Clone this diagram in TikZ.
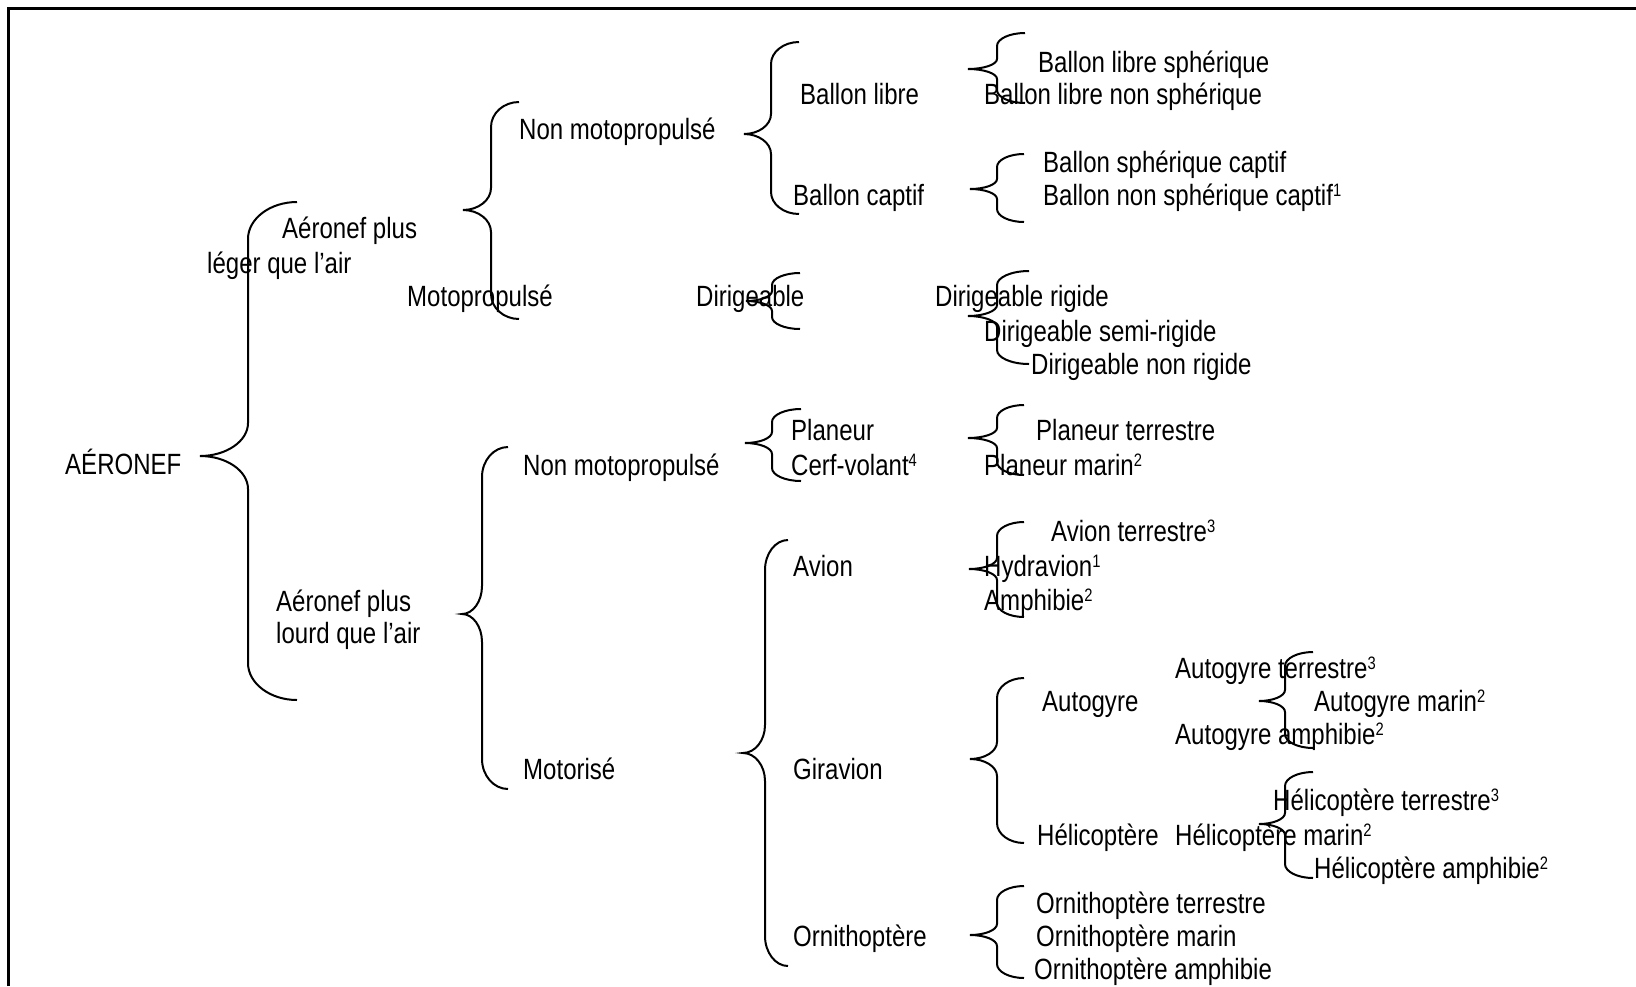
\documentclass[tikz,border=0pt]{standalone}
\usepackage{fontspec}
\setmainfont{Liberation Sans}[FakeStretch=0.82]
\newcommand\expo[1]{\raisebox{8.5pt}{\fontsize{18}{18}\selectfont #1}}
% brace: tipx tipy spinex endx top bottom r rt
\newcommand\brc[8]{%
\draw[br] (#4,#5) .. controls ({#3+0.45*(#4-#3)},#5) and (#3,{#5+0.45*#7}) .. (#3,{#5+#7})
 -- (#3,{#2-#8}) .. controls (#3,{#2-0.45*#8}) and ({#1+0.55*(#3-#1)},#2) .. (#1,#2)
 .. controls ({#1+0.55*(#3-#1)},#2) and (#3,{#2+0.45*#8}) .. (#3,{#2+#8})
 -- (#3,{#6-#7}) .. controls (#3,{#6-0.45*#7}) and ({#3+0.45*(#4-#3)},#6) .. (#4,#6);}
\begin{document}
\begin{tikzpicture}[x=1pt,y=-1pt,
  lbl/.style={anchor=base west, inner sep=0pt, font=\fontsize{29.3}{34}\selectfont},
  br/.style={line width=2pt},
  frame/.style={line width=3pt}]
\useasboundingbox (0,0) rectangle (1636,986);
\draw[frame] (8.5,986) -- (8.5,8.5) -- (1636,8.5);
% braces
\brc{200}{456}{248}{297}{202}{700}{37}{33}
\brc{463}{210}{491}{519}{102}{319}{25}{22}
\brc{744}{134}{771}{799}{42}{214}{22}{20}
\brc{746}{301}{772}{800}{273}{329}{12}{10}
\brc{745}{443}{772}{801}{409}{481}{13}{11}
\brc{462}{614}{482}{508}{447}{789}{30}{28}
\brc{743}{753}{765}{788}{540}{966}{30}{28}
\brc{968}{69}{997}{1025}{33}{103}{13}{10}
\brc{970}{189}{997}{1024}{154}{222}{13}{10}
\brc{968}{316}{997}{1029}{271}{364}{14}{11}
\brc{968}{438}{997}{1024}{405}{475}{13}{10}
\brc{969}{569}{997}{1024}{522}{617}{14}{11}
\brc{970}{759}{997}{1024}{678}{843}{20}{17}
\brc{1259}{701}{1285}{1313}{652}{748}{14}{11}
\brc{1259}{824}{1285}{1313}{772}{878}{14}{11}
\brc{970}{935}{997}{1024}{886}{978}{14}{11}
% labels
\node[lbl] (root) at (65,474) {AÉRONEF};
\node[lbl] (l1a) at (282,238) {Aéronef plus};
\node[lbl] (l1b) at (207,273) {léger que l’air};
\node[lbl] (l2a) at (276,611) {Aéronef plus};
\node[lbl] (l2b) at (276,643) {lourd que l’air};
\node[lbl] (nm1) at (519,139) {Non motopropulsé};
\node[lbl] (mp) at (407,306) {Motopropulsé};
\node[lbl] (bl) at (800,104) {Ballon libre};
\node[lbl] (bc) at (793,205) {Ballon captif};
\node[lbl] (dir) at (696,306) {Dirigeable};
\node[lbl] (bls) at (1038,72) {Ballon libre sphérique};
\node[lbl] (blns) at (984,104) {Ballon libre non sphérique};
\node[lbl] (bsc) at (1043,172) {Ballon sphérique captif};
\node[lbl] (bnsc) at (1043,205) {Ballon non sphérique captif\expo{1}};
\node[lbl] (dr) at (935,306) {Dirigeable rigide};
\node[lbl] (dsr) at (984,341) {Dirigeable semi-rigide};
\node[lbl] (dnr) at (1031,374) {Dirigeable non rigide};
\node[lbl] (pl) at (791,440) {Planeur};
\node[lbl] (cv) at (791,475) {Cerf-volant\expo{4}};
\node[lbl] (nm2) at (523,475) {Non motopropulsé};
\node[lbl] (plt) at (1036,440) {Planeur terrestre};
\node[lbl] (plm) at (984,475) {Planeur marin\expo{2}};
\node[lbl] (mot) at (523,779) {Motorisé};
\node[lbl] (av) at (793,576) {Avion};
\node[lbl] (gir) at (793,779) {Giravion};
\node[lbl] (orn) at (793,946) {Ornithoptère};
\node[lbl] (avt) at (1051,541) {Avion terrestre\expo{3}};
\node[lbl] (hyd) at (984,576) {Hydravion\expo{1}};
\node[lbl] (amp) at (984,610) {Amphibie\expo{2}};
\node[lbl] (aut) at (1042,711) {Autogyre};
\node[lbl] (hel) at (1037,845) {Hélicoptère};
\node[lbl] (autt) at (1175,678) {Autogyre terrestre\expo{3}};
\node[lbl] (autm) at (1314,711) {Autogyre marin\expo{2}};
\node[lbl] (auta) at (1175,744) {Autogyre amphibie\expo{2}};
\node[lbl] (helm) at (1175,845) {Hélicoptère marin\expo{2}};
\node[lbl] (helt) at (1273,810) {Hélicoptère terrestre\expo{3}};
\node[lbl] (hela) at (1314,878) {Hélicoptère amphibie\expo{2}};
\node[lbl] (ornt) at (1036,913) {Ornithoptère terrestre};
\node[lbl] (ornm) at (1036,946) {Ornithoptère marin};
\node[lbl] (orna) at (1034,979) {Ornithoptère amphibie};
\end{tikzpicture}
\end{document}
